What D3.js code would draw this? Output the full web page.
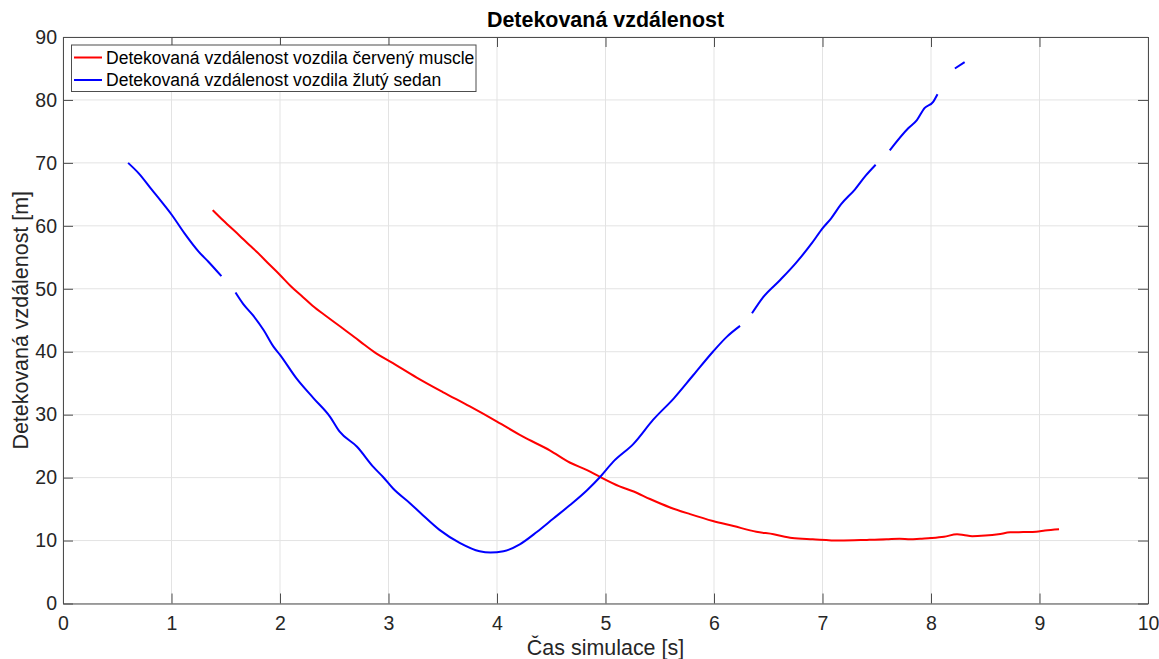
<!DOCTYPE html>
<html>
<head>
<meta charset="utf-8">
<script src="https://cdn.jsdelivr.net/npm/d3@7"></script>
<style>
  html, body { margin: 0; padding: 0; background: #fff; }
  svg { display: block; font-family: "Liberation Sans", Arial, Helvetica, sans-serif; }
</style>
</head>
<body>
<svg id="chart" width="1159" height="659"></svg>
<script>
// Detected distance to the red muscle car (time [s], distance [m])
const redTime = [1.38, 1.48, 1.63, 1.72, 1.79, 1.9, 2.0, 2.1, 2.21, 2.3, 2.43, 2.58, 2.74, 2.89, 3.02, 3.26, 3.5, 3.75, 4.0, 4.24, 4.49, 4.67, 4.83, 4.95, 5.13, 5.26, 5.41, 5.59, 5.78, 5.99, 6.18, 6.39, 6.55, 6.72, 6.91, 7.16, 7.41, 7.59, 7.71, 7.81, 7.9, 8.0, 8.12, 8.24, 8.3, 8.38, 8.5, 8.62, 8.73, 8.85, 8.97, 9.05, 9.18];
const redDist = [62.5, 60.8, 58.4, 56.9, 55.8, 53.9, 52.2, 50.4, 48.7, 47.3, 45.6, 43.7, 41.6, 39.7, 38.4, 35.9, 33.6, 31.3, 28.9, 26.5, 24.3, 22.4, 21.2, 20.1, 18.6, 17.8, 16.6, 15.3, 14.2, 13.1, 12.3, 11.4, 11.0, 10.4, 10.2, 10.0, 10.1, 10.2, 10.3, 10.2, 10.3, 10.4, 10.6, 11.0, 10.9, 10.7, 10.8, 11.0, 11.3, 11.35, 11.4, 11.6, 11.8];

// Detected distance to the yellow sedan; null marks a dropout in detection
const blueTime = [0.6, 0.7, 0.82, 0.9, 1.0, 1.12, 1.25, 1.34, 1.46, null,
  1.59, 1.66, 1.75, 1.85, 1.94, 2.0, 2.15, 2.31, 2.46, 2.55, 2.71, 2.86, 2.95, 3.04, 3.2, 3.3, 3.47, 3.66, 3.84, 3.94, 4.06, 4.21, 4.37, 4.52, 4.67, 4.83, 4.95, 5.07, 5.26, 5.44, 5.63, 5.81, 5.99, 6.12, 6.24, null,
  6.35, 6.45, 6.61, 6.75, 6.9, 7.0, 7.08, 7.17, 7.3, 7.4, 7.49, null,
  7.62, 7.79, 7.87, 7.94, 8.02, 8.06, null,
  8.22, 8.31];
const blueDist = [70.0, 68.3, 65.7, 64.0, 61.8, 58.8, 55.9, 54.3, 52.0, null,
  49.4, 47.6, 45.8, 43.4, 40.8, 39.5, 35.8, 32.6, 29.7, 27.3, 24.9, 21.7, 20.1, 18.3, 15.9, 14.3, 11.7, 9.6, 8.3, 8.1, 8.3, 9.4, 11.4, 13.5, 15.6, 18.0, 20.1, 22.5, 25.4, 29.2, 32.6, 36.3, 40.0, 42.4, 44.1, null,
  46.1, 48.6, 51.4, 54.0, 57.2, 59.6, 61.2, 63.4, 65.8, 68.0, 69.7, null,
  72.0, 75.5, 76.8, 78.7, 79.7, 80.9, null,
  85.0, 86.0];

const xTicks = [0, 1, 2, 3, 4, 5, 6, 7, 8, 9, 10];
const yTicks = [0, 10, 20, 30, 40, 50, 60, 70, 80, 90];

const seriesNames = [
  "Detekovaná vzdálenost vozdila červený muscle",
  "Detekovaná vzdálenost vozdila žlutý sedan"
];
const seriesColors = ["#ff0000", "#0000ff"];

const svg = d3.select("#chart");
const plotL = 63, plotR = 1148, plotT = 37, plotB = 603.5;
const x = d3.scaleLinear().domain([0, 10]).range([plotL, plotR]);
const y = d3.scaleLinear().domain([0, 90]).range([plotB, plotT]);
const axisColor = "#4d4d4d";
const textColor = "#262626";
const baseFont = 19.5;

// grid
const grid = svg.append("g");
grid.selectAll("line.gx").data(xTicks).join("line")
  .attr("x1", d => x(d)).attr("x2", d => x(d))
  .attr("y1", plotT).attr("y2", plotB)
  .attr("stroke", "#e3e3e3").attr("stroke-width", 1);
grid.selectAll("line.gy").data(yTicks).join("line")
  .attr("x1", plotL).attr("x2", plotR)
  .attr("y1", d => y(d)).attr("y2", d => y(d))
  .attr("stroke", "#e3e3e3").attr("stroke-width", 1);

// data lines
const line = d3.line()
  .defined(d => d[1] !== null)
  .curve(d3.curveMonotoneX)
  .x(d => x(d[0])).y(d => y(d[1]));

const redData = redTime.map((t, i) => [t, redDist[i]]);
const blueData = blueTime.map((t, i) => [t, blueDist[i]]);

svg.append("path").datum(redData).attr("d", line)
  .attr("fill", "none").attr("stroke", seriesColors[0]).attr("stroke-width", 2)
  .attr("stroke-linejoin", "round");
svg.append("path").datum(blueData).attr("d", line)
  .attr("fill", "none").attr("stroke", seriesColors[1]).attr("stroke-width", 2)
  .attr("stroke-linejoin", "round");

// axes: box with inward ticks on all four sides
const tickLen = 10;
const xAxisB = d3.axisBottom(x).tickValues(xTicks).tickSizeInner(-tickLen).tickSizeOuter(0).tickPadding(13);
const xAxisT = d3.axisTop(x).tickValues(xTicks).tickSizeInner(-tickLen).tickSizeOuter(0).tickFormat("");
const yAxisL = d3.axisLeft(y).tickValues(yTicks).tickSizeInner(-tickLen).tickSizeOuter(0).tickPadding(6);
const yAxisR = d3.axisRight(y).tickValues(yTicks).tickSizeInner(-tickLen).tickSizeOuter(0).tickFormat("");

function styleAxis(g) {
  g.select(".domain").attr("stroke", axisColor);
  g.selectAll(".tick line").attr("stroke", axisColor);
  g.selectAll(".tick text").attr("fill", textColor)
    .style("font-size", baseFont + "px").style("font-family", "'Liberation Sans', Arial, sans-serif");
}
svg.append("g").attr("transform", `translate(0,${plotB})`).call(xAxisB).call(styleAxis);
svg.append("g").attr("transform", `translate(0,${plotT})`).call(xAxisT).call(styleAxis);
svg.append("g").attr("transform", `translate(${plotL},0)`).call(yAxisL).call(styleAxis);
svg.append("g").attr("transform", `translate(${plotR},0)`).call(yAxisR).call(styleAxis);

// title and axis labels
svg.append("text").attr("x", (plotL + plotR) / 2).attr("y", 27)
  .attr("text-anchor", "middle").attr("font-weight", "bold")
  .attr("font-size", baseFont * 1.1).attr("fill", "#000")
  .text("Detekovaná vzdálenost");
svg.append("text").attr("x", (plotL + plotR) / 2).attr("y", 655)
  .attr("text-anchor", "middle").attr("font-size", baseFont * 1.1).attr("fill", textColor)
  .text("Čas simulace [s]");
svg.append("text").attr("transform", `translate(28,${(plotT + plotB) / 2}) rotate(-90)`)
  .attr("text-anchor", "middle").attr("font-size", baseFont * 1.1).attr("fill", textColor)
  .text("Detekovaná vzdálenost [m]");

// legend
const lg = svg.append("g");
lg.append("rect").attr("x", 71.5).attr("y", 45).attr("width", 404.5).attr("height", 46.5)
  .attr("fill", "#fff").attr("stroke", axisColor).attr("stroke-width", 1);
seriesNames.forEach((name, i) => {
  const ly = 57.5 + i * 22.5;
  lg.append("line").attr("x1", 74).attr("x2", 102).attr("y1", ly).attr("y2", ly)
    .attr("stroke", seriesColors[i]).attr("stroke-width", 2);
  lg.append("text").attr("x", 106).attr("y", ly + 6.3)
    .attr("font-size", baseFont * 0.9).attr("fill", "#000").text(name);
});
</script>
</body>
</html>
